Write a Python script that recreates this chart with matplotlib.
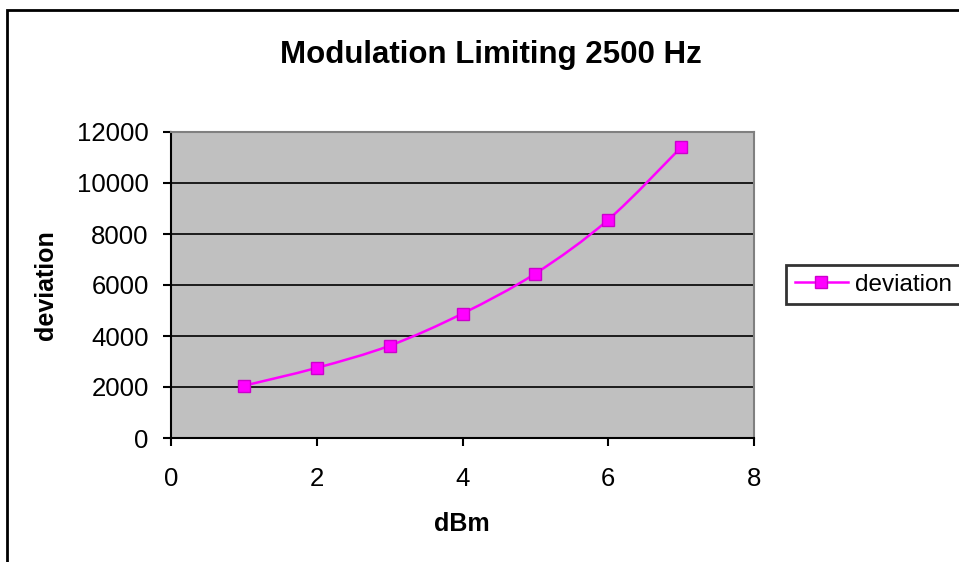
import matplotlib
matplotlib.use('Agg')
import matplotlib.pyplot as plt
from matplotlib.path import Path
from matplotlib.patches import PathPatch, Rectangle
from matplotlib.lines import Line2D
import numpy as np

plt.rcParams['font.family'] = ['Liberation Sans', 'DejaVu Sans']

dbm = [1, 2, 3, 4, 5, 6, 7]
deviation = [2050, 2750, 3620, 4880, 6450, 8560, 11400]

TITLE = "Modulation Limiting 2500 Hz"
X_LABEL = "dBm"
Y_LABEL = "deviation"
LINE_COLOR = '#FF00FF'

W, H = 959, 562


def smooth_path(xs, ys):
    # excel-like smoothed line: cubic bezier with catmull-rom tangents
    pts = np.column_stack([xs, ys]).astype(float)
    verts = [pts[0]]
    codes = [Path.MOVETO]
    n = len(pts)
    for i in range(n - 1):
        p0 = pts[i - 1] if i > 0 else pts[i]
        p1 = pts[i]
        p2 = pts[i + 1]
        p3 = pts[i + 2] if i + 2 < n else pts[i + 1]
        c1 = p1 + (p2 - p0) / 6.0
        c2 = p2 - (p3 - p1) / 6.0
        verts += [c1, c2, p2]
        codes += [Path.CURVE4] * 3
    return Path(verts, codes)


fig = plt.figure(figsize=(W / 100, H / 100), dpi=100)
fig.patch.set_facecolor('white')

# outer chart border (cut at right and bottom)
fig.add_artist(Rectangle((7 / W, -0.1), 1.2, 1 - 10 / H + 0.1, transform=fig.transFigure,
                         fill=False, edgecolor='black', linewidth=2))

ax = fig.add_axes([171 / W, (H - 438) / H, 583 / W, 306 / H])
ax.set_facecolor('#C0C0C0')
ax.set_xlim(0, 8)
ax.set_ylim(0, 12000)
ax.set_xticks(np.arange(0, 9, 2))
ax.set_yticks(np.arange(0, 12001, 2000))
ax.yaxis.grid(True, color='black', linewidth=1.2)
ax.set_axisbelow(True)

for side in ['top', 'right']:
    ax.spines[side].set_color('#808080')
    ax.spines[side].set_linewidth(1.5)
for side in ['left', 'bottom']:
    ax.spines[side].set_color('black')
    ax.spines[side].set_linewidth(1.5)

ax.tick_params(direction='out', length=6, width=1.5, labelsize=18.5, colors='black')
ax.tick_params(axis='y', pad=10)
ax.tick_params(axis='x', pad=15)

ax.add_patch(PathPatch(smooth_path(dbm, deviation), facecolor='none',
                       edgecolor=LINE_COLOR, linewidth=1.8, zorder=3))
ax.plot(dbm, deviation, linestyle='none', marker='s', markersize=8.5,
        markerfacecolor=LINE_COLOR, markeredgecolor='#CC00CC', markeredgewidth=1, zorder=4)

fig.text(491 / W, 1 - 55 / H, TITLE, ha='center', va='center', fontsize=22.5, fontweight='bold')
fig.text(462 / W, 1 - 524 / H, X_LABEL, ha='center', va='center', fontsize=18, fontweight='bold')
fig.text(46 / W, 1 - 285 / H, Y_LABEL, ha='center', va='center', fontsize=18, fontweight='bold',
         rotation=90)

handle = Line2D([], [], color=LINE_COLOR, linewidth=1.8, marker='s', markersize=8.5,
                markerfacecolor=LINE_COLOR, markeredgecolor='#CC00CC')
leg = fig.legend([handle], [Y_LABEL], loc='upper left', bbox_to_anchor=(786 / W, 1 - 265 / H),
                 fontsize=17.5, frameon=True, fancybox=False, handlelength=2.2,
                 borderpad=0.35, handletextpad=0.3, borderaxespad=0)
leg.get_frame().set_edgecolor('black')
leg.get_frame().set_linewidth(2)

plt.savefig('out.png', dpi=100)
plt.close()
